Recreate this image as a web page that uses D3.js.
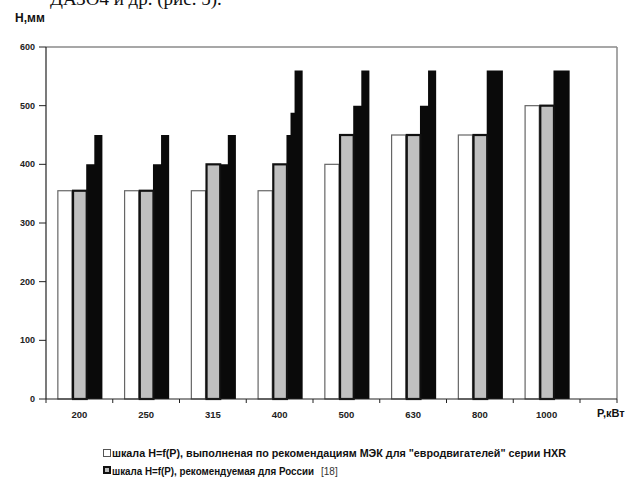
<!DOCTYPE html>
<html>
<head>
<meta charset="utf-8">
<script src="https://cdn.jsdelivr.net/npm/d3@7"></script>
<style>
  body { margin: 0; background: #fff; }
  svg { display: block; }
</style>
</head>
<body>
<div id="chart"></div>
<script>
// Categories: motor power, kW
var powers = ['200', '250', '315', '400', '500', '630', '800', '1000'];
// White bars: H=f(P) by IEC recommendations (HXR series)
var iecHeights = [355, 355, 355, 355, 400, 450, 450, 500];
// Gray bars: H=f(P) recommended for Russia
var rusHeights = [355, 355, 400, 400, 450, 450, 450, 500];
// Black stepped bars, four steps from left to right
var step1 = [400, 400, 400, 450, 500, 500, 560, 560];
var step2 = [400, 400, 400, 488, 500, 500, 560, 560];
var step3 = [450, 450, 450, 560, 560, 560, 560, 560];
var step4 = [450, 450, 450, 560, 560, 560, 560, 560];
var yTicks = [0, 100, 200, 300, 400, 500, 600];
var legendItems = [
  'шкала H=f(P), выполненая по рекомендациям МЭК для "евродвигателей" серии HXR',
  'шкала H=f(P), рекомендуемая для России'
];

(function() {
  var W = 633, H = 482;
  var svg = d3.select('#chart').append('svg').attr('width', W).attr('height', H);

  // Plot area
  var pLeft = 46, pRight = 580, frameRight = 617, pTop = 47, pBottom = 399;

  var x = d3.scaleBand().domain(powers).range([pLeft, pRight])
    .paddingInner(0.34).paddingOuter(0.17);
  var inner = d3.scaleBand().domain(['iec', 'rus', 'blk']).range([0, x.bandwidth()]);
  var stepScale = d3.scaleBand().domain([0, 1, 2, 3]).range([0, inner.bandwidth() + 1.5]);
  var y = d3.scaleLinear().domain([0, 600]).range([pBottom, pTop]);

  // Cut off line of document text above the chart
  svg.append('text')
    .attr('x', 50).attr('y', 5)
    .style('font-family', '"Liberation Serif", serif')
    .style('font-size', '19px')
    .style('fill', '#111')
    .text('ДАЗО4 и др. (рис. 5).');

  // Frame (top and right, gray)
  svg.append('line').attr('x1', pLeft).attr('x2', frameRight).attr('y1', pTop).attr('y2', pTop)
    .style('stroke', '#8a8a8a').style('stroke-width', 1.5);
  svg.append('line').attr('x1', frameRight).attr('x2', frameRight).attr('y1', pTop).attr('y2', pBottom)
    .style('stroke', '#8a8a8a').style('stroke-width', 1.5);

  var rows = powers.map(function(p, i) {
    return { p: p, iec: iecHeights[i], rus: rusHeights[i],
      steps: [step1[i], step2[i], step3[i], step4[i]] };
  });

  var groups = svg.selectAll('g.grp').data(rows).enter().append('g')
    .attr('class', 'grp')
    .attr('transform', function(d) { return 'translate(' + x(d.p) + ',0)'; });

  // White bars
  groups.append('rect')
    .attr('x', inner('iec') + 0.5)
    .attr('y', function(d) { return y(d.iec); })
    .attr('width', inner.bandwidth() - 0.5)
    .attr('height', function(d) { return y(0) - y(d.iec); })
    .style('fill', '#fff').style('stroke', '#666').style('stroke-width', 1.2);

  // Black stepped bars: one outline path per group, so no seams between steps
  groups.append('path')
    .attr('d', function(d) {
      var x0 = inner('blk') - 0.5;
      var pts = [[x0, y(0)]];
      d.steps.forEach(function(v, k) {
        pts.push([x0 + stepScale(k), y(v)]);
        pts.push([x0 + stepScale(k) + stepScale.bandwidth(), y(v)]);
      });
      pts.push([x0 + stepScale(3) + stepScale.bandwidth(), y(0)]);
      return 'M' + pts.map(function(p) { return p[0] + ',' + p[1]; }).join('L') + 'Z';
    })
    .style('fill', '#0a0a0a');

  // Gray bars with thick border
  groups.append('rect')
    .attr('x', inner('rus') + 1)
    .attr('y', function(d) { return y(d.rus); })
    .attr('width', inner.bandwidth() - 1)
    .attr('height', function(d) { return y(0) - y(d.rus); })
    .style('fill', '#c0c0c0').style('stroke', '#111').style('stroke-width', 2.2);

  // Y axis
  svg.append('line').attr('x1', pLeft).attr('x2', pLeft).attr('y1', pTop).attr('y2', pBottom)
    .style('stroke', '#222').style('stroke-width', 1.2);
  var yt = svg.selectAll('g.yt').data(yTicks).enter().append('g')
    .attr('transform', function(d) { return 'translate(0,' + y(d) + ')'; });
  yt.append('line').attr('x1', pLeft - 7).attr('x2', pLeft).style('stroke', '#222');
  yt.append('text')
    .attr('x', 35).attr('dy', '0.35em')
    .style('text-anchor', 'end')
    .style('font-family', '"Liberation Sans", Arial, sans-serif')
    .style('font-weight', 'bold').style('font-size', '9px').style('fill', '#222')
    .text(function(d) { return d; });

  // X axis
  svg.append('line').attr('x1', pLeft).attr('x2', frameRight).attr('y1', pBottom).attr('y2', pBottom)
    .style('stroke', '#222').style('stroke-width', 1.2);
  var bounds = powers.map(function(p) { return x(p) - x.step() * x.paddingOuter(); });
  bounds.push(pRight);
  bounds.push(frameRight);
  svg.selectAll('line.xt').data(bounds).enter().append('line')
    .attr('x1', function(d) { return d; }).attr('x2', function(d) { return d; })
    .attr('y1', pBottom).attr('y2', pBottom + 4)
    .style('stroke', '#222');
  svg.selectAll('text.xl').data(powers).enter().append('text')
    .attr('x', function(d) { return x(d) + x.bandwidth() / 2; })
    .attr('y', 418)
    .style('text-anchor', 'middle')
    .style('font-family', '"Liberation Sans", Arial, sans-serif')
    .style('font-weight', 'bold').style('font-size', '9.5px').style('fill', '#222')
    .text(function(d) { return d; });

  // Axis titles
  svg.append('text').attr('x', 597).attr('y', 417)
    .style('font-family', '"Liberation Sans", Arial, sans-serif')
    .style('font-weight', 'bold').style('font-size', '11px').style('fill', '#111')
    .text('P,кВт');
  svg.append('text').attr('x', 15).attr('y', 22)
    .style('font-family', '"Liberation Sans", Arial, sans-serif')
    .style('font-weight', 'bold').style('font-size', '12px').style('fill', '#111')
    .text('H,мм');

  // Legend
  var lg = svg.append('g');
  lg.append('rect').attr('x', 103.5).attr('y', 449.5).attr('width', 7).attr('height', 7)
    .style('fill', '#fff').style('stroke', '#555');
  lg.append('rect').attr('x', 104).attr('y', 467).attr('width', 6).attr('height', 6)
    .style('fill', '#bbb').style('stroke', '#111').style('stroke-width', 2);
  lg.append('text').attr('x', 112).attr('y', 457)
    .attr('textLength', 454).attr('lengthAdjust', 'spacingAndGlyphs')
    .style('font-family', '"Liberation Sans", Arial, sans-serif')
    .style('font-weight', 'bold').style('font-size', '10px').style('fill', '#111')
    .text(legendItems[0]);
  lg.append('text').attr('x', 112).attr('y', 475)
    .attr('textLength', 202).attr('lengthAdjust', 'spacingAndGlyphs')
    .style('font-family', '"Liberation Sans", Arial, sans-serif')
    .style('font-weight', 'bold').style('font-size', '10px').style('fill', '#111')
    .text(legendItems[1]);
  lg.append('text').attr('x', 321).attr('y', 475)
    .style('font-family', '"Liberation Sans", Arial, sans-serif')
    .style('font-size', '10px').style('fill', '#333')
    .text('[18]');
})();
</script>
</body>
</html>
